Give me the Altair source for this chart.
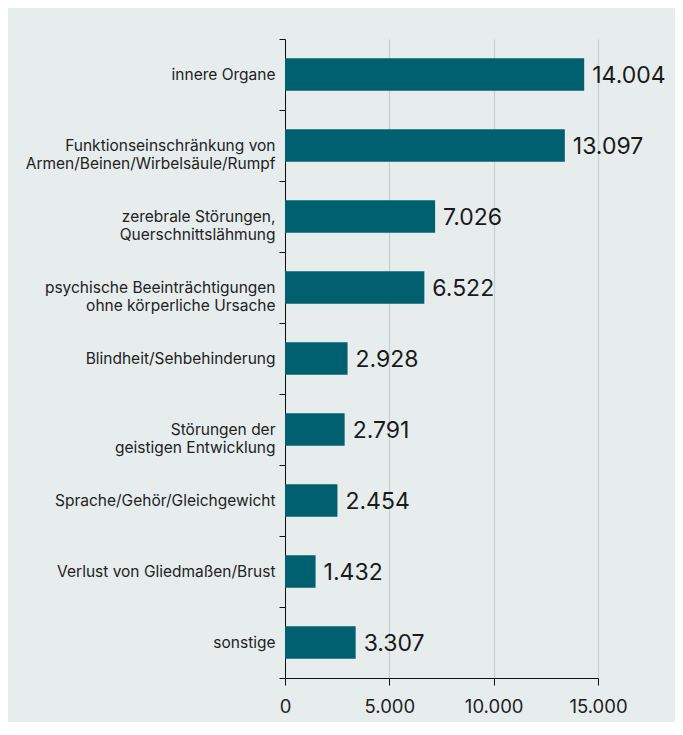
import altair as alt
import pandas as pd

categories = [
    "innere Organe",
    "Funktionseinschränkung von|Armen/Beinen/Wirbelsäule/Rumpf",
    "zerebrale Störungen,|Querschnittslähmung",
    "psychische Beeinträchtigungen|ohne körperliche Ursache",
    "Blindheit/Sehbehinderung",
    "Störungen der|geistigen Entwicklung",
    "Sprache/Gehör/Gleichgewicht",
    "Verlust von Gliedmaßen/Brust",
    "sonstige",
]
values = [14004, 13097, 7026, 6522, 2928, 2791, 2454, 1432, 3307]
axis_ticks = [0, 5000, 10000, 15000]

df = pd.DataFrame({"kat": categories, "wert": values})
df_ticks = pd.DataFrame({"t": axis_ticks})

BG = "#e7eded"
BAR = "#00606f"
FONT = "Inter"

y = alt.Y(
    "kat:N",
    sort=None,
    title=None,
    scale=alt.Scale(paddingInner=0, paddingOuter=0),
    axis=alt.Axis(
        labelExpr="split(datum.label, '|')",
        labelFontSize=15.5,
        labelLineHeight=18,
        labelColor="#222222",
        labelFont=FONT,
        labelPadding=4,
        tickBand="extent",
        tickSize=6,
        tickColor="#111111",
        domainColor="#111111",
        grid=False,
        labelLimit=400,
    ),
)

# axis / grid layer (scale 0..15000)
axis_layer = alt.Chart(df_ticks).mark_tick(opacity=0).encode(
    x=alt.X(
        "t:Q",
        title=None,
        scale=alt.Scale(domain=[0, 15000], nice=False),
        axis=alt.Axis(
            orient="bottom",
            values=axis_ticks,
            labelExpr="replace(format(datum.value, ','), ',', '.')",
            labelFlush=False,
            labelFontSize=18.5,
            labelColor="#222222",
            labelFont=FONT,
            labelPadding=12,
            tickSize=7,
            tickColor="#111111",
            domainColor="#111111",
            grid=True,
            gridColor="#c9cfcf",
            gridWidth=1.2,
        ),
    )
)

xbar = alt.X("wert:Q", title=None, scale=alt.Scale(domain=[0, 14650], nice=False), axis=None)

bars = alt.Chart(df).mark_bar(color=BAR, size=32.5).encode(x=xbar, y=y)

text = (
    alt.Chart(df)
    .transform_calculate(lbl="replace(format(datum.wert, ','), ',', '.')")
    .mark_text(align="left", baseline="middle", dx=8, dy=1, fontSize=23, font=FONT, color="#1a1a1a")
    .encode(x=xbar, y=alt.Y("kat:N", sort=None), text="lbl:N")
)

chart = (
    alt.layer(axis_layer, alt.layer(bars, text))
    .resolve_scale(x="independent")
    .properties(
        width=313,
        height=639,
        background=BG,
        autosize=alt.AutoSizeParams(type="none"),
        padding={"left": 277, "top": 31, "right": 77, "bottom": 44},
    )
    .configure_view(stroke=None)
)

chart.save("out.html", embed_options={"renderer": "svg", "actions": False})
